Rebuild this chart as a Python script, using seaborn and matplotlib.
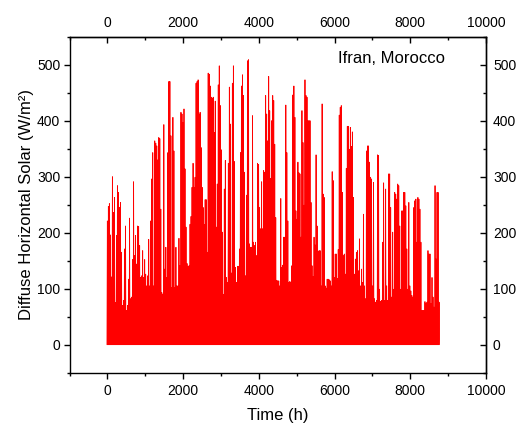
import numpy as np
import pandas as pd
import matplotlib
matplotlib.use("Agg")
import matplotlib.pyplot as plt
import seaborn as sns
from matplotlib.ticker import MultipleLocator

# Daily peak diffuse horizontal irradiance (W/m^2), in time order
peaks_q1 = [221, 247, 252, 196, 121, 300, 236, 263, 75, 195,
            284, 272, 245, 254, 165, 70, 79, 171, 212, 61,
            70, 117, 226, 82, 85, 152, 291, 159, 195, 144,
            212, 211, 177, 120, 123, 168, 120, 152, 126, 105,
            123, 188, 105, 221, 296, 343, 105, 364, 360, 355,
            330, 370, 368, 242, 93, 90, 393, 135, 174, 120,
            343, 470, 470, 373, 102, 406, 346, 102, 174, 105,
            105, 190, 141, 415, 412, 397, 421, 314, 210, 145]
peaks_q2 = [140, 141, 215, 229, 281, 324, 281, 299, 467, 470,
            473, 412, 415, 352, 281, 245, 215, 259, 259, 165,
            485, 483, 462, 442, 440, 442, 379, 435, 210, 287,
            464, 498, 427, 348, 201, 90, 278, 329, 120, 111,
            324, 460, 394, 128, 467, 498, 327, 138, 111, 140,
            140, 171, 343, 462, 482, 445, 308, 123, 267, 507,
            509, 180, 174, 174, 409, 183, 177, 183, 159, 324,
            322, 245, 207, 291, 207, 311, 308, 445, 412, 364,
            479, 418, 297, 400]
peaks_q3 = [445, 436, 358, 227, 115, 114, 114, 105, 261, 138,
            142, 192, 192, 428, 343, 221, 111, 113, 111, 141,
            446, 462, 406, 239, 224, 326, 307, 305, 192, 418,
            361, 249, 473, 445, 442, 400, 400, 400, 254, 141,
            122, 192, 178, 339, 212, 166, 168, 168, 105, 430,
            269, 263, 105, 101, 117, 117, 116, 114, 105, 309,
            293, 120, 162, 162, 118, 170, 410, 424, 427, 272,
            159, 162, 126, 315, 390, 390, 349, 388, 354, 380,
            263, 126, 153, 165]
peaks_q4 = [168, 132, 189, 105, 135, 111, 233, 105, 82, 346,
            355, 355, 326, 299, 296, 105, 290, 82, 76, 79,
            339, 338, 99, 77, 79, 183, 289, 79, 278, 105,
            79, 305, 305, 245, 85, 201, 99, 272, 269, 260,
            287, 284, 212, 99, 239, 239, 272, 272, 248, 171,
            99, 254, 105, 96, 88, 85, 245, 257, 260, 183,
            263, 260, 242, 183, 61, 61, 61, 77, 73, 76,
            168, 162, 162, 73, 120, 85, 67, 284, 153, 272,
            272, 76]

year_hours = 8760
location = "Ifran, Morocco"
x_label = "Time (h)"
y_label = "Diffuse Horizontal Solar (W/m²)"
x_ticks = [0, 2000, 4000, 6000, 8000, 10000]
y_ticks = [0, 100, 200, 300, 400, 500]

# Build a day/night series: zero at night, daily peak at midday
peaks = np.array(peaks_q1 + peaks_q2 + peaks_q3 + peaks_q4, dtype=float)
day_hour = np.linspace(0, year_hours, len(peaks))
half = (day_hour[1] - day_hour[0]) * 0.4
zeros = np.zeros_like(peaks)
hour = np.column_stack([day_hour - half, day_hour, day_hour + half]).ravel()
value = np.column_stack([zeros, peaks, zeros]).ravel()
df = pd.DataFrame({"hour": hour, "value": value})

sns.set_style("ticks")
plt.rcParams["font.family"] = ["Liberation Sans", "DejaVu Sans"]
plt.rcParams["text.color"] = "black"
plt.rcParams["axes.labelcolor"] = "black"
plt.rcParams["xtick.color"] = "black"
plt.rcParams["ytick.color"] = "black"

fig = plt.figure(figsize=(5.16, 4.24), dpi=100)
ax = fig.add_axes([0.1347, 0.121, 0.8072, 0.7924])

sns.lineplot(data=df, x="hour", y="value", color="#ff0000", linewidth=0.6,
             estimator=None, sort=False, ax=ax)

ax.set_xlim(-1000, 10000)
ax.set_ylim(-50, 550)
ax.set_xticks(x_ticks)
ax.set_yticks(y_ticks)
ax.xaxis.set_minor_locator(MultipleLocator(1000))
ax.yaxis.set_minor_locator(MultipleLocator(50))
ax.tick_params(which="both", direction="out", width=1.0, colors="black",
               labelsize=10)
ax.tick_params(which="major", length=4.3)
ax.tick_params(which="minor", length=2.2)
ax.tick_params(axis="x", pad=3.5)
ax.tick_params(axis="y", pad=2.4)

for s in ax.spines.values():
    s.set_visible(True)
    s.set_linewidth(1.0)
    s.set_color("black")

ax.set_xlabel(x_label, fontsize=12, labelpad=7.5)
ax.set_ylabel(y_label, fontsize=12, labelpad=2)

top = ax.secondary_xaxis("top")
top.set_xticks(x_ticks)
top.xaxis.set_minor_locator(MultipleLocator(1000))
top.tick_params(which="both", direction="in", width=1.0, colors="black",
                labelsize=10, pad=5)
top.tick_params(which="major", length=4.3)
top.tick_params(which="minor", length=2.2)
top.spines["top"].set_linewidth(1.0)

right = ax.secondary_yaxis("right")
right.set_yticks(y_ticks)
right.yaxis.set_minor_locator(MultipleLocator(50))
right.tick_params(which="both", direction="in", width=1.0, colors="black",
                  labelsize=10, pad=5)
right.tick_params(which="major", length=4.3)
right.tick_params(which="minor", length=2.2)
right.spines["right"].set_linewidth(1.0)

ax.text(0.9016, 0.9366, location, transform=ax.transAxes, ha="right",
        va="center", fontsize=12, color="black")

fig.savefig("out.png", dpi=100)
